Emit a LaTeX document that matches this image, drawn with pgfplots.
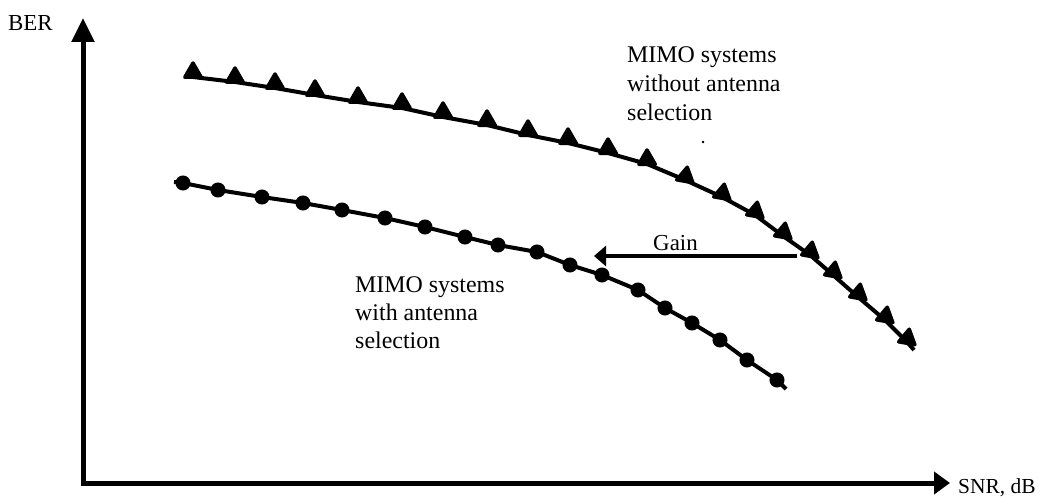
\documentclass[border=0pt]{standalone}
\usepackage{pgfplots}
\pgfplotsset{compat=1.18}
\usepackage{fontspec}
\setmainfont{Liberation Serif}
\usetikzlibrary{arrows.meta}

\begin{document}
\begin{tikzpicture}
\begin{axis}[
  at={(0,0)}, anchor=south west,
  scale only axis, width=1045bp, height=499bp,
  xmin=0, xmax=1045, ymin=0, ymax=499, y dir=reverse,
  hide axis, clip=false,
  tri/.style={black, only marks, mark=triangle*, mark size=9.5bp},
]
% without antenna selection: line
\addplot[black, line width=4bp, line join=round, no markers] coordinates {
(185,76) (193,77) (235,82) (275,88) (315,95) (358,102) (402,108) (443,117)
(487,125) (528,135) (568,143) (608,153) (647,164) (685,180) (722,197)
(755,215) (783,236) (810,255) (833,275) (858,297) (885,320) (907,342) (914,350)
};
% triangles, sitting on the curve
\addplot[tri, mark options={solid, fill=black, line width=3.5bp, line join=round, yshift=4.5bp}] coordinates {
(193,77) (235,82) (275,88) (315,95) (358,102) (402,108) (443,117)
(487,125) (528,135) (568,143) (608,153) (647,164)};
\addplot[tri, mark options={solid, fill=black, line width=3.5bp, line join=round, rotate=-10, yshift=3.5bp}] coordinates {
(685,180) (722,197) (755,215) (783,236) (810,255) (833,275) (858,297) (885,320) (907,342)};
% with antenna selection (circles)
\addplot[black, line width=4bp, line join=round, no markers] coordinates {
(174,182) (183,183) (218,190) (262,197) (303,203) (342,210) (385,218) (425,227)
(465,237) (498,245) (537,252) (570,265) (602,275) (638,290) (665,308)
(692,323) (720,340) (747,360) (777,380) (786,389)
};
\addplot[black, only marks, mark=*, mark size=6bp,
  mark options={solid, fill=black, line width=3bp}] coordinates {
(183,183) (218,190) (262,197) (303,203) (342,210) (385,218) (425,227)
(465,237) (498,245) (537,252) (570,265) (602,275) (638,290) (665,308)
(692,323) (720,340) (747,360) (777,380)
};
% stray dot
\addplot[black, only marks, mark=*, mark size=1bp] coordinates {(703,142)};

% axes
\draw[line width=5bp, -{Triangle[width=22bp,length=24bp]}] (axis cs:83,485) -- (axis cs:83,18);
\draw[line width=5bp, -{Triangle[width=22bp,length=16bp]}] (axis cs:81,483) -- (axis cs:950,483);
% gain arrow
\draw[line width=3.5bp, -{Triangle[width=20bp,length=12bp]}] (axis cs:797,256) -- (axis cs:594,256);

\node[anchor=base west, inner sep=0pt, font=\fontsize{23}{28}\selectfont] at (axis cs:8,31) {BER};
\node[anchor=base west, inner sep=0pt, font=\fontsize{21.5}{26}\selectfont] at (axis cs:958,493) {SNR, dB};
\node[anchor=base west, inner sep=0pt, font=\fontsize{23}{28}\selectfont] at (axis cs:653,250) {Gain};

\node[anchor=base west, inner sep=0pt, font=\fontsize{24}{29}\selectfont] at (axis cs:627,63) {MIMO systems};
\node[anchor=base west, inner sep=0pt, font=\fontsize{24}{29}\selectfont] at (axis cs:627,92) {without antenna};
\node[anchor=base west, inner sep=0pt, font=\fontsize{24}{29}\selectfont] at (axis cs:627,121) {selection};

\node[anchor=base west, inner sep=0pt, font=\fontsize{24}{29}\selectfont] at (axis cs:355,292) {MIMO systems};
\node[anchor=base west, inner sep=0pt, font=\fontsize{24}{29}\selectfont] at (axis cs:355,320) {with antenna};
\node[anchor=base west, inner sep=0pt, font=\fontsize{24}{29}\selectfont] at (axis cs:355,348) {selection};
\end{axis}
\pgfresetboundingbox
\path[use as bounding box] (0,0) rectangle (1045bp,499bp);
\end{tikzpicture}
\end{document}
